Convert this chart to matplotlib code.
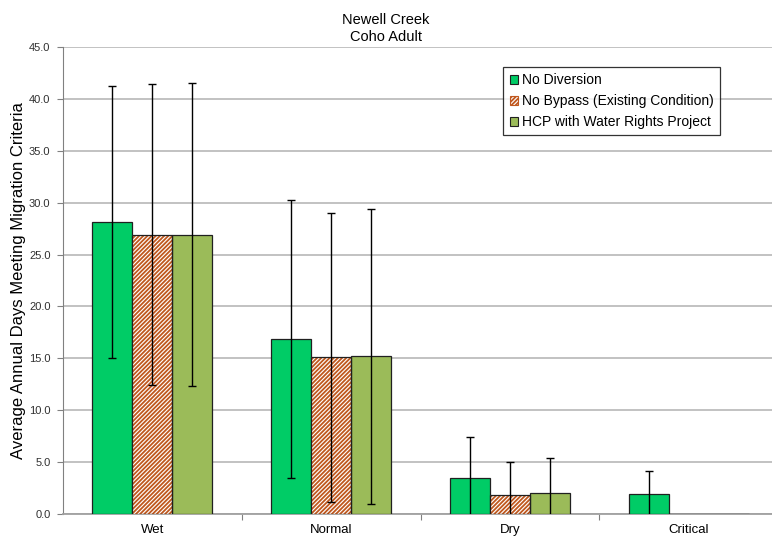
import numpy as np
import matplotlib
matplotlib.use("Agg")
import matplotlib.pyplot as plt
from matplotlib.patches import Patch

plt.rcParams['font.family'] = ['Liberation Sans', 'DejaVu Sans']
plt.rcParams['hatch.linewidth'] = 1.3

categories = ['Wet', 'Normal', 'Dry', 'Critical']
series = ['No Diversion', 'No Bypass (Existing Condition)', 'HCP with Water Rights Project']

no_diversion = [28.1, 16.9, 3.5, 1.9]
no_bypass = [26.9, 15.1, 1.8, 0.0]
hcp_water = [26.9, 15.2, 2.0, 0.0]

no_diversion_err = [13.1, 13.4, 3.9, 2.2]
no_bypass_err = [14.5, 13.9, 3.2, 0.0]
hcp_water_err = [14.6, 14.2, 3.4, 0.0]

values = [no_diversion, no_bypass, hcp_water]
errors = [no_diversion_err, no_bypass_err, hcp_water_err]

green = '#00CC66'
olive = '#9BBB59'
brick = '#C0581E'

fig = plt.figure(figsize=(7.72, 5.40), dpi=100)
ax = fig.add_axes([63 / 772, 1 - 514 / 540, 715 / 772, 467 / 540])

x = np.arange(len(categories)) + 0.5
w = 0.224
offsets = [-w, 0, w]

for i, (vals, errs) in enumerate(zip(values, errors)):
    vals = np.array(vals)
    errs = np.array(errs)
    pos = x + offsets[i]
    if i == 1:
        ax.bar(pos, vals, w, color='white', edgecolor=brick, hatch='////////',
               linewidth=0, zorder=3)
        ax.bar(pos, vals, w, fill=False, edgecolor='#202020', linewidth=0.9, zorder=4)
    else:
        ax.bar(pos, vals, w, color=green if i == 0 else olive,
               edgecolor='#202020', linewidth=0.9, zorder=3)
    show = errs > 0
    lo = np.clip(vals - errs, 0, None)
    hi = vals + errs
    # whiskers, clipped at the axis
    ax.vlines(pos[show], lo[show], hi[show], color='black', linewidth=1.0, zorder=5)
    # caps on the upper ends, and lower ends that stay above zero
    ax.plot(pos[show], hi[show], ls='none', marker='_', ms=6, mew=1.0,
            color='black', zorder=5)
    low_cap = show & (vals - errs > 0)
    ax.plot(pos[low_cap], lo[low_cap], ls='none', marker='_', ms=6, mew=1.0,
            color='black', zorder=5)

ax.set_xlim(0, 4)
ax.set_ylim(0, 45)
ax.set_yticks(np.arange(0, 45.1, 5))
ax.set_yticklabels([f'{v:.1f}' for v in np.arange(0, 45.1, 5)], fontsize=8, color='#303030')
ax.set_xticks([1, 2, 3])
ax.set_xticklabels([])
ax.set_xticks(x, minor=True)
ax.set_xticklabels(categories, minor=True, fontsize=9.5)
ax.tick_params(axis='x', which='minor', length=0, pad=7)
ax.tick_params(axis='x', which='major', length=4, color='#808080', direction='out')
ax.tick_params(axis='y', length=4, color='#808080', pad=5)

ax.grid(axis='y', color='#BDBDBD', linewidth=1.3, zorder=0)
ax.set_axisbelow(True)
for s in ['top', 'right']:
    ax.spines[s].set_visible(False)
ax.spines['left'].set_color('#808080')
ax.spines['bottom'].set_color('#A0A0A0')
ax.spines['bottom'].set_linewidth(1.3)

ax.set_ylabel('Average Annual Days Meeting Migration Criteria', fontsize=12, labelpad=2)

fig.text(0.5, 0.975, 'Newell Creek\nCoho Adult', ha='center', va='top', fontsize=10.5,
         linespacing=1.25)

handles = [
    Patch(facecolor=green, edgecolor='#202020', linewidth=0.8),
    Patch(facecolor='white', edgecolor=brick, hatch='////////', linewidth=0.8),
    Patch(facecolor=olive, edgecolor='#202020', linewidth=0.8),
]
leg = fig.legend(handles, series, loc='upper right', bbox_to_anchor=(720 / 772, 1 - 67 / 540),
                 fontsize=10, frameon=True, fancybox=False, edgecolor='black',
                 handlelength=0.6, handleheight=0.6, handletextpad=0.3,
                 borderpad=0.45, labelspacing=0.5, borderaxespad=0)
leg.get_frame().set_linewidth(0.9)

fig.savefig('out.png', dpi=100)
